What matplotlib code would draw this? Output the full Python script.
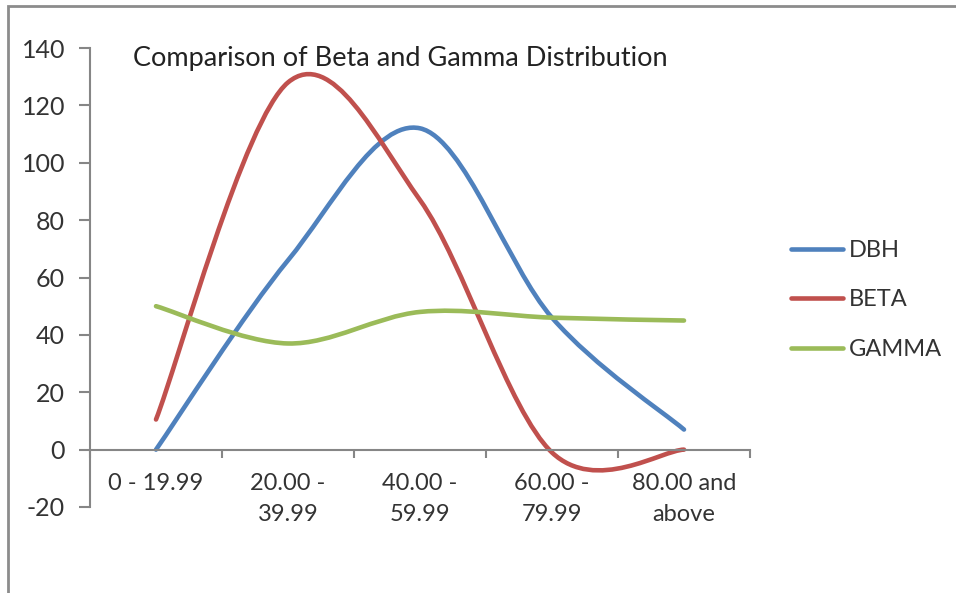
import matplotlib.pyplot as plt
from matplotlib.path import Path
from matplotlib.patches import PathPatch, Rectangle
from matplotlib.lines import Line2D

plt.rcParams['font.family'] = ['Lato', 'DejaVu Sans']
plt.rcParams['axes.unicode_minus'] = False

categories = ['0 - 19.99', '20.00 -\n39.99', '40.00 -\n59.99', '60.00 -\n79.99', '80.00 and\nabove']
dbh = [0, 66, 112, 46, 7]
beta = [10.5, 128, 87, -1, 0]
gamma = [50, 37, 48, 46, 45]

series = [('DBH', dbh, '#4F81BD'), ('BETA', beta, '#C0504D'), ('GAMMA', gamma, '#9BBB59')]
axis_color = '#868686'
text_color = '#333333'


def smooth_path(values):
    # Catmull-Rom style cubic bezier through each point, like a spreadsheet "smoothed line"
    pts = list(enumerate(values))
    n = len(pts)
    verts = [pts[0]]
    codes = [Path.MOVETO]
    for i in range(n - 1):
        p0 = pts[max(i - 1, 0)]
        p1 = pts[i]
        p2 = pts[i + 1]
        p3 = pts[min(i + 2, n - 1)]
        c1 = (p1[0] + (p2[0] - p0[0]) / 6, p1[1] + (p2[1] - p0[1]) / 6)
        c2 = (p2[0] - (p3[0] - p1[0]) / 6, p2[1] - (p3[1] - p1[1]) / 6)
        verts += [c1, c2, p2]
        codes += [Path.CURVE4] * 3
    return Path(verts, codes)


fig = plt.figure(figsize=(9.56, 5.93), dpi=100)
ax = fig.add_axes([90 / 956, 1 - 507 / 593, 660 / 956, 459 / 593])

handles = []
for name, vals, color in series:
    ax.add_patch(PathPatch(smooth_path(vals), fill=False, edgecolor=color, lw=3.3,
                           capstyle='round', joinstyle='round'))
    handles.append(Line2D([], [], color=color, lw=3.3, solid_capstyle='round', label=name))

ax.set_xlim(-0.5, len(categories) - 0.5)
ax.set_ylim(-20, 140)
ax.set_yticks(range(-20, 141, 20))

# category axis sits at zero with ticks between the groups
ax.spines['bottom'].set_position(('data', 0))
ax.spines['top'].set_visible(False)
ax.spines['right'].set_visible(False)
for s in ['left', 'bottom']:
    ax.spines[s].set_color(axis_color)
    ax.spines[s].set_linewidth(1.5)

ax.set_xticks([i - 0.5 for i in range(len(categories) + 1)])
ax.set_xticklabels([])
ax.set_xticks(range(len(categories)), minor=True)
ax.set_xticklabels(categories, minor=True, fontsize=17, color=text_color, linespacing=1.6)
ax.tick_params(axis='x', which='major', direction='out', length=6, width=1.5, color=axis_color)
ax.tick_params(axis='x', which='minor', length=0, pad=17)
ax.tick_params(axis='y', direction='out', length=8, width=1.5, color=axis_color,
               labelsize=18, labelcolor=text_color, pad=10)

ax.set_title('Comparison of Beta and Gamma Distribution', fontsize=19.5, color='#222222',
             x=0.47, y=0.96, va='center')

fig.legend(handles=handles, loc='center left', bbox_to_anchor=(770 / 956, 1 - 300 / 593),
           frameon=False, fontsize=17, handlelength=2.2, handletextpad=0.25,
           labelspacing=1.2, labelcolor=text_color)

# outer chart border
fig.patches.append(Rectangle((8 / 956, -0.1), 1.2, 1 - 6 / 593 + 0.1, transform=fig.transFigure,
                             fill=False, edgecolor='#8c8c8c', lw=2))

fig.savefig('out.png', dpi=100)
